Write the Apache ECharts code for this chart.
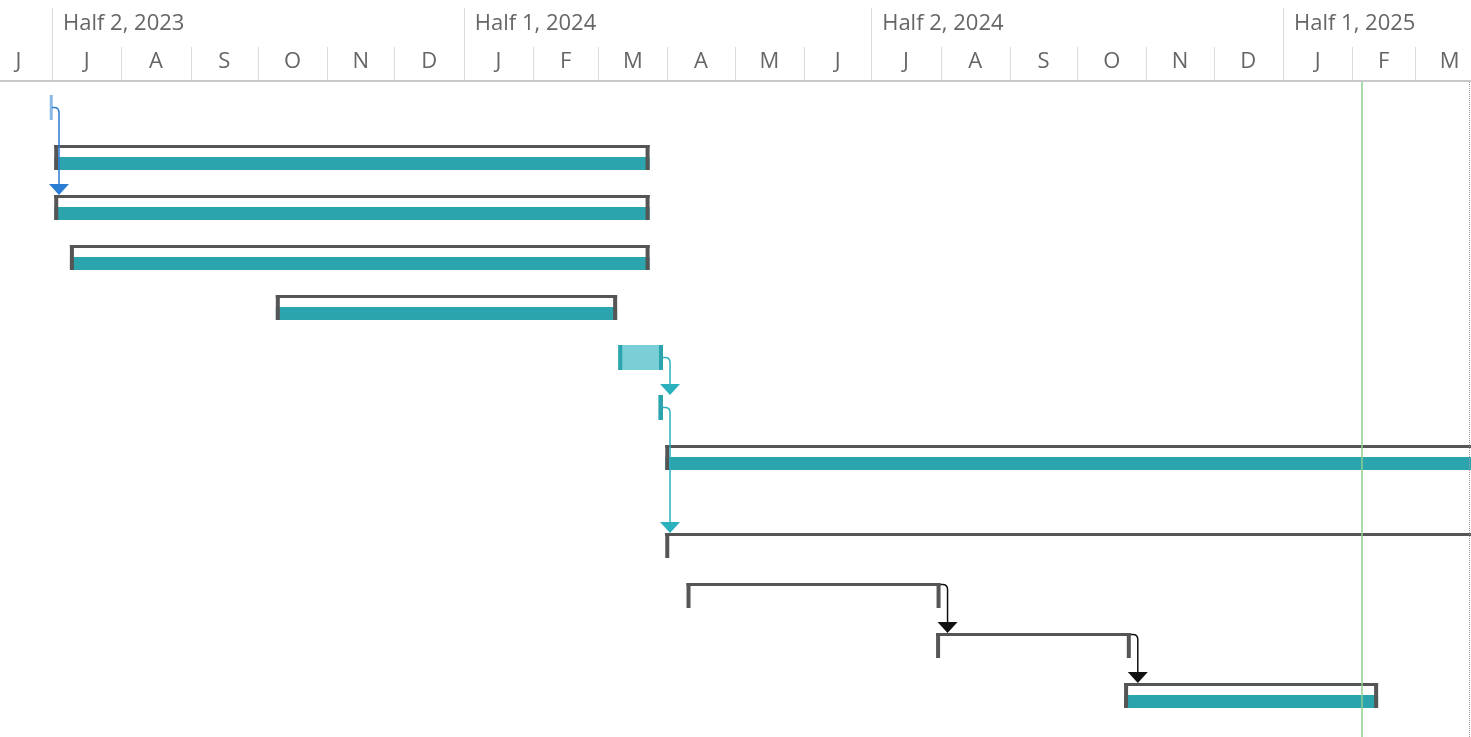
<!DOCTYPE html>
<html>
<head>
<meta charset="utf-8">
<script src="https://cdn.jsdelivr.net/npm/echarts@6/dist/echarts.min.js"></script>
<style>
html, body { margin: 0; padding: 0; background: #fff; }
#chart { width: 1471px; height: 737px; }
</style>
</head>
<body>
<div id="chart"></div>
<script>
// timescale
const monthStarts = ['2023-06-01', '2023-07-01', '2023-08-01', '2023-09-01', '2023-10-01', '2023-11-01', '2023-12-01',
  '2024-01-01', '2024-02-01', '2024-03-01', '2024-04-01', '2024-05-01', '2024-06-01',
  '2024-07-01', '2024-08-01', '2024-09-01', '2024-10-01', '2024-11-01', '2024-12-01',
  '2025-01-01', '2025-02-01', '2025-03-01', '2025-04-01']
const monthLetters = ['J', 'J', 'A', 'S', 'O', 'N', 'D', 'J', 'F', 'M', 'A', 'M', 'J', 'J', 'A', 'S', 'O', 'N', 'D', 'J', 'F', 'M']
const halfStarts = ['2023-07-01', '2024-01-01', '2024-07-01', '2025-01-01']
const halfLabels = ['Half 2, 2023', 'Half 1, 2024', 'Half 2, 2024', 'Half 1, 2025']

// tasks, one per row
const taskStart = ['2023-06-30', '2023-07-02', '2023-07-02', '2023-07-09', '2023-10-09', '2024-03-10',
  '2024-03-28', '2024-03-31', '2024-03-31', '2024-04-09T12:00:00Z', '2024-07-30', '2024-10-22']
const taskEnd = ['2023-07-01', '2024-03-24', '2024-03-24', '2024-03-24', '2024-03-09T12:00:00Z', '2024-03-30',
  '2024-03-30', '2025-04-15', '2025-04-15', '2024-08-01', '2024-10-25', '2025-02-12T12:00:00Z']
const taskKind = ['blue', 'bar', 'bar', 'bar', 'bar', 'light', 'light', 'bar', 'outline', 'outline', 'outline', 'bar']

// dependencies: from row, to row, colour
const linkFrom = [0, 5, 6, 9, 10]
const linkTo = [2, 6, 8, 10, 11]
const linkKind = ['blue', 'teal', 'teal', 'black', 'black']

const todayDate = '2025-02-05T00:00:00Z'
const pageEndDate = '2025-03-25T04:00:00Z'

// layout
const rowHeights = [1, 1, 1, 1, 1, 1, 1, 1.76, 1, 1, 1, 1]
const rowTop = []
rowHeights.reduce((acc, h, i) => { rowTop[i] = acc; return acc + h }, 0)
const BAR_OFFSET = 0.26
const BAR_H = 0.5

const DARK = '#555555'
const TEAL = '#2ca4ad'
const LIGHT_TEAL = '#7acfd6'
const LINK_COLORS = { blue: '#2b7cd3', teal: '#2bb0be', black: '#111111' }
const TEXT = '#666666'
const FONT = '"Open Sans", "Noto Sans", sans-serif'

const t = (s) => +new Date(s.length === 10 ? s + 'T00:00:00Z' : s)

const chart = echarts.init(document.getElementById('chart'))

const renderMonth = (params, api) => {
  const i = api.value(2)
  const x0 = api.coord([api.value(0), 0])[0]
  const x1 = api.coord([api.value(1), 0])[0]
  const top = params.coordSys.y
  return {
    type: 'group',
    children: [
      { type: 'line', shape: { x1: Math.round(x0) + 0.5, y1: top - 35, x2: Math.round(x0) + 0.5, y2: top }, style: { stroke: '#dcdcdc', lineWidth: 1 } },
      { type: 'text', x: (x0 + x1) / 2, y: top - 20, style: { text: monthLetters[i], fill: TEXT, font: '22px ' + FONT, align: 'center', verticalAlign: 'middle' } }
    ]
  }
}

const renderHalf = (params, api) => {
  const i = api.value(1)
  const x0 = api.coord([api.value(0), 0])[0]
  const top = params.coordSys.y
  return {
    type: 'group',
    children: [
      { type: 'line', shape: { x1: Math.round(x0) + 0.5, y1: top - 74, x2: Math.round(x0) + 0.5, y2: top }, style: { stroke: '#dcdcdc', lineWidth: 1 } },
      { type: 'text', x: x0 + 11, y: top - 58, style: { text: halfLabels[i], fill: TEXT, font: '22px ' + FONT, align: 'left', verticalAlign: 'middle' } }
    ]
  }
}

const renderTask = (params, api) => {
  const i = api.value(0)
  const y = api.coord([api.value(1), rowTop[i] + BAR_OFFSET])[1]
  const x0 = api.coord([api.value(1), 0])[0]
  const x1 = api.coord([api.value(2), 0])[0]
  const h = api.size([0, BAR_H])[1]
  const w = Math.max(x1 - x0, 3)
  const kind = taskKind[i]
  const children = []
  if (kind === 'blue') {
    children.push({ type: 'rect', shape: { x: x0, y: y, width: w, height: h }, style: { fill: 'rgba(43,124,211,0.55)' } })
  } else if (kind === 'light') {
    children.push({ type: 'rect', shape: { x: x0, y: y, width: w, height: h }, style: { fill: LIGHT_TEAL } })
    children.push({ type: 'rect', shape: { x: x0, y: y, width: Math.min(4, w), height: h }, style: { fill: TEAL } })
    children.push({ type: 'rect', shape: { x: x0 + w - Math.min(4, w), y: y, width: Math.min(4, w), height: h }, style: { fill: TEAL } })
  } else {
    if (kind === 'bar') {
      children.push({ type: 'rect', shape: { x: x0, y: y + 12, width: w, height: h - 12 }, style: { fill: TEAL } })
    }
    children.push({ type: 'rect', shape: { x: x0, y: y, width: w, height: 3 }, style: { fill: DARK } })
    children.push({ type: 'rect', shape: { x: x0, y: y, width: 4, height: h }, style: { fill: DARK } })
    children.push({ type: 'rect', shape: { x: x1 - 4, y: y, width: 4, height: h }, style: { fill: DARK } })
  }
  return { type: 'group', children }
}

const renderLink = (params, api) => {
  const from = api.value(0)
  const to = api.value(1)
  const color = LINK_COLORS[linkKind[params.dataIndex]]
  const h = api.size([0, BAR_H])[1]
  const fromTop = api.coord([0, rowTop[from] + BAR_OFFSET])[1]
  const fy = taskKind[from] === 'outline' ? fromTop + 1.5 : fromTop + h / 2
  const fx = api.coord([t(taskEnd[from]), 0])[0]
  const tipY = api.coord([0, rowTop[to] + BAR_OFFSET])[1]
  const tx = fx + 7
  const r = 5
  const path = `M ${fx} ${fy} L ${tx - r} ${fy} Q ${tx} ${fy} ${tx} ${fy + r} L ${tx} ${tipY - 10}`
  return {
    type: 'group',
    children: [
      { type: 'path', shape: { pathData: path }, style: { stroke: color, lineWidth: 1.5, fill: null } },
      { type: 'polygon', shape: { points: [[tx - 10, tipY - 11], [tx + 10, tipY - 11], [tx, tipY]] }, style: { fill: color } }
    ]
  }
}

const option = {
  backgroundColor: '#fff',
  animation: false,
  grid: { left: 0, right: 0, top: 82, bottom: 0 },
  xAxis: {
    type: 'time',
    min: t('2023-06-07T18:24:00Z'),
    max: t('2025-03-26T00:00:00Z'),
    show: false
  },
  yAxis: {
    type: 'value',
    inverse: true,
    min: 0,
    max: 13.1,
    show: false
  },
  graphic: [
    { type: 'line', shape: { x1: 0, y1: 81, x2: 1471, y2: 81 }, style: { stroke: '#c8c8c8', lineWidth: 2 }, z: 5 }
  ],
  series: [
    {
      type: 'custom',
      clip: false,
      renderItem: renderMonth,
      encode: { x: [0, 1] },
      data: monthLetters.map((l, i) => [t(monthStarts[i]), t(monthStarts[i + 1]), i])
    },
    {
      type: 'custom',
      clip: false,
      renderItem: renderHalf,
      encode: { x: 0 },
      data: halfLabels.map((l, i) => [t(halfStarts[i]), i])
    },
    {
      type: 'custom',
      renderItem: renderTask,
      encode: { x: [1, 2], y: 0 },
      data: taskStart.map((s, i) => [i, t(s), t(taskEnd[i])])
    },
    {
      type: 'custom',
      renderItem: renderLink,
      encode: { y: [0, 1] },
      z: 4,
      data: linkFrom.map((f, i) => [f, linkTo[i]])
    },
    {
      type: 'line',
      data: [],
      z: 6,
      markLine: {
        silent: true,
        symbol: 'none',
        label: { show: false },
        data: [
          { xAxis: t(todayDate), lineStyle: { color: '#8fce8f', width: 1.5, type: 'solid' } },
          { xAxis: t(pageEndDate), lineStyle: { color: '#9a9a9a', width: 1, type: 'dotted' } }
        ]
      }
    }
  ]
}

chart.setOption(option)
</script>
</body>
</html>
